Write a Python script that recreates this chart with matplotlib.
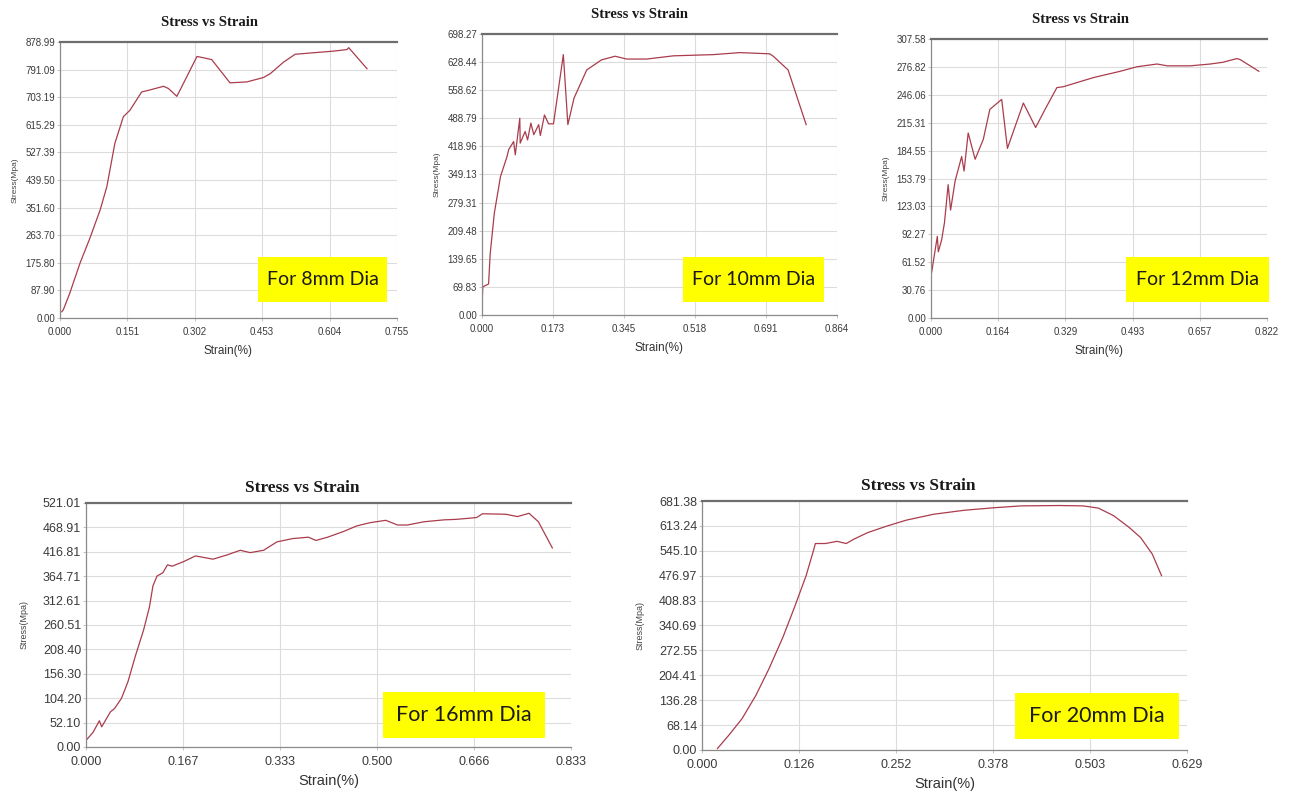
import numpy as np
import matplotlib
matplotlib.use("Agg")
import matplotlib.pyplot as plt
from matplotlib.patches import Rectangle

# ---- data ----
DIAMETERS = ["8mm", "10mm", "12mm", "16mm", "20mm"]

STRAIN_8 = [0.004, 0.0075, 0.022, 0.045, 0.067, 0.090, 0.105, 0.123, 0.142, 0.157,
            0.183, 0.198, 0.232, 0.243, 0.262, 0.284, 0.307, 0.321, 0.340, 0.381,
            0.419, 0.456, 0.471, 0.501, 0.527, 0.561, 0.613, 0.643, 0.647, 0.688]
STRESS_8 = [20, 26, 79, 175, 254, 344, 418, 556, 641, 662,
            720, 725, 738, 731, 706, 768, 833, 829, 823, 749,
            752, 766, 778, 815, 840, 844, 850, 855, 861, 794]

STRAIN_10 = [0.000, 0.002, 0.016, 0.020, 0.030, 0.045, 0.061, 0.065, 0.077, 0.081,
             0.092, 0.093, 0.105, 0.111, 0.119, 0.126, 0.138, 0.142, 0.152, 0.162,
             0.174, 0.198, 0.209, 0.224, 0.255, 0.291, 0.324, 0.352, 0.401, 0.466,
             0.563, 0.628, 0.700, 0.709, 0.745, 0.789]
STRESS_10 = [26, 70, 77, 153, 253, 344, 394, 411, 431, 398,
             489, 427, 456, 435, 477, 448, 473, 446, 497, 475,
             475, 647, 473, 539, 609, 634, 643, 636, 636, 644,
             647, 652, 649, 643, 609, 473]

STRAIN_12 = [0.000, 0.004, 0.0155, 0.018, 0.026, 0.033, 0.042, 0.048, 0.059, 0.075,
             0.081, 0.091, 0.108, 0.128, 0.144, 0.173, 0.187, 0.226, 0.256, 0.279,
             0.308, 0.324, 0.397, 0.463, 0.504, 0.553, 0.578, 0.634, 0.683, 0.715,
             0.748, 0.756, 0.802]
STRESS_12 = [46, 57, 90, 73, 86, 105, 147, 119, 151, 178,
             162, 204, 175, 197, 230, 241, 187, 237, 210, 230,
             254, 255, 265, 272, 277, 280, 278, 278, 280, 282,
             286, 285, 272]

STRAIN_16 = [0.000, 0.012, 0.023, 0.027, 0.042, 0.049, 0.061, 0.072, 0.085, 0.099,
             0.109, 0.115, 0.122, 0.132, 0.140, 0.148, 0.168, 0.188, 0.218, 0.242,
             0.265, 0.282, 0.305, 0.328, 0.355, 0.382, 0.395, 0.415, 0.442, 0.465,
             0.488, 0.515, 0.535, 0.552, 0.581, 0.615, 0.635, 0.654, 0.671, 0.681,
             0.721, 0.741, 0.761, 0.777, 0.801]
STRESS_16 = [14, 31, 56, 43, 75, 82, 104, 139, 195, 250,
             299, 344, 365, 372, 389, 386, 396, 408, 401, 410,
             420, 415, 420, 438, 445, 448, 441, 448, 460, 472,
             479, 484, 474, 474, 481, 485, 486, 488, 490, 498,
             497, 492, 499, 481, 425]

STRAIN_20 = [0.020, 0.035, 0.052, 0.070, 0.087, 0.105, 0.120, 0.135, 0.145, 0.147,
             0.160, 0.175, 0.187, 0.197, 0.215, 0.240, 0.265, 0.300, 0.340, 0.379,
             0.414, 0.464, 0.494, 0.514, 0.534, 0.554, 0.569, 0.584, 0.596]
STRESS_20 = [4, 41, 86, 150, 223, 309, 391, 477, 549, 565,
             565, 571, 565, 577, 595, 613, 629, 645, 656, 663,
             668, 669, 668, 662, 641, 609, 581, 536, 477]

XTICKS_8 = ["0.000", "0.151", "0.302", "0.453", "0.604", "0.755"]
YTICKS_8 = ["0.00", "87.90", "175.80", "263.70", "351.60", "439.50",
            "527.39", "615.29", "703.19", "791.09", "878.99"]
XTICKS_10 = ["0.000", "0.173", "0.345", "0.518", "0.691", "0.864"]
YTICKS_10 = ["0.00", "69.83", "139.65", "209.48", "279.31", "349.13",
             "418.96", "488.79", "558.62", "628.44", "698.27"]
XTICKS_12 = ["0.000", "0.164", "0.329", "0.493", "0.657", "0.822"]
YTICKS_12 = ["0.00", "30.76", "61.52", "92.27", "123.03", "153.79",
             "184.55", "215.31", "246.06", "276.82", "307.58"]
XTICKS_16 = ["0.000", "0.167", "0.333", "0.500", "0.666", "0.833"]
YTICKS_16 = ["0.00", "52.10", "104.20", "156.30", "208.40", "260.51",
             "312.61", "364.71", "416.81", "468.91", "521.01"]
XTICKS_20 = ["0.000", "0.126", "0.252", "0.378", "0.503", "0.629"]
YTICKS_20 = ["0.00", "68.14", "136.28", "204.41", "272.55", "340.69",
             "408.83", "476.97", "545.10", "613.24", "681.38"]

# ---- layout (figure fractions) and label box (axes fractions) ----
PANELS = [
    dict(x=STRAIN_8, y=STRESS_8, xt=XTICKS_8, yt=YTICKS_8,
         rect=[0.0463, 0.6005, 0.2602, 0.3467], box=[0.588, 0.058, 0.383, 0.163],
         small=True),
    dict(x=STRAIN_10, y=STRESS_10, xt=XTICKS_10, yt=YTICKS_10,
         rect=[0.3722, 0.6043, 0.2741, 0.3530], box=[0.566, 0.046, 0.397, 0.160],
         small=True),
    dict(x=STRAIN_12, y=STRESS_12, xt=XTICKS_12, yt=YTICKS_12,
         rect=[0.7189, 0.6005, 0.2595, 0.3505], box=[0.580, 0.057, 0.426, 0.161],
         small=True),
    dict(x=STRAIN_16, y=STRESS_16, xt=XTICKS_16, yt=YTICKS_16,
         rect=[0.0664, 0.0616, 0.3745, 0.3065], box=[0.612, 0.037, 0.334, 0.190],
         small=False),
    dict(x=STRAIN_20, y=STRESS_20, xt=XTICKS_20, yt=YTICKS_20,
         rect=[0.5421, 0.0578, 0.3745, 0.3128], box=[0.645, 0.044, 0.338, 0.185],
         small=False),
]

LINE_COLOR = "#aa3c4c"
TICK_FONT = ["Liberation Sans Narrow", "Liberation Sans", "DejaVu Sans"]

fig = plt.figure(figsize=(12.95, 7.96), dpi=100)

for P, dia in zip(PANELS, DIAMETERS):
    ax = fig.add_axes(P["rect"])
    small = P["small"]
    xmax, ymax = float(P["xt"][-1]), float(P["yt"][-1])
    ax.plot(P["x"], P["y"], color=LINE_COLOR, lw=0.9)
    ax.set_xlim(0, xmax)
    ax.set_ylim(0, ymax)

    ax.set_xticks(np.linspace(0, xmax, len(P["xt"])))
    ax.set_xticklabels(P["xt"])
    ax.set_yticks(np.linspace(0, ymax, len(P["yt"])))
    ax.set_yticklabels(P["yt"])

    fs = 7 if small else 9
    ax.tick_params(length=2, width=0.6, color="#bbbbbb", labelcolor="#3a3a3a",
                   labelsize=fs, pad=1.5)
    ax.tick_params(axis="x", pad=4.5 if small else 4.5)
    for t in ax.get_xticklabels() + ax.get_yticklabels():
        t.set_family(TICK_FONT)
    ax.grid(True, color="#dcdcdc", lw=0.8)
    ax.set_axisbelow(True)

    ax.spines["right"].set_visible(False)
    ax.spines["top"].set_color("#6e6e6e")
    ax.spines["top"].set_linewidth(1.6)
    for s in ("left", "bottom"):
        ax.spines[s].set_color("#8a8a8a")
        ax.spines[s].set_linewidth(0.9)

    ax.set_xlabel("Strain(%)", fontsize=8.5 if small else 10.5,
                  color="#333333", labelpad=6 if small else 4,
                  family=["Liberation Sans", "DejaVu Sans"])
    ax.set_ylabel("Stress(Mpa)", fontsize=6 if small else 6.5,
                  color="#444444", labelpad=5 if small else 10,
                  family=["Liberation Sans", "DejaVu Sans"])

    ax.annotate("Stress vs Strain", xy=(0.445, 1.0), xycoords="axes fraction",
                xytext=(0, 14 if small else 11), textcoords="offset points",
                ha="center", va="center", fontsize=10.5 if small else 12.5,
                fontweight="bold", family=["Liberation Serif", "DejaVu Serif"],
                color="#1a1a1a")

    bx, by, bw, bh = P["box"]
    ax.add_patch(Rectangle((bx, by), bw, bh, transform=ax.transAxes,
                           facecolor="#ffff00", edgecolor="none", zorder=5,
                           clip_on=False))
    ax.text(bx + bw / 2, by + bh / 2, f"For {dia} Dia", transform=ax.transAxes,
            ha="center", va="center", fontsize=14 if small else 15.5,
            family=["Lato", "DejaVu Sans"], color="#1a1a1a", zorder=6)

fig.savefig("out.png", dpi=100)
